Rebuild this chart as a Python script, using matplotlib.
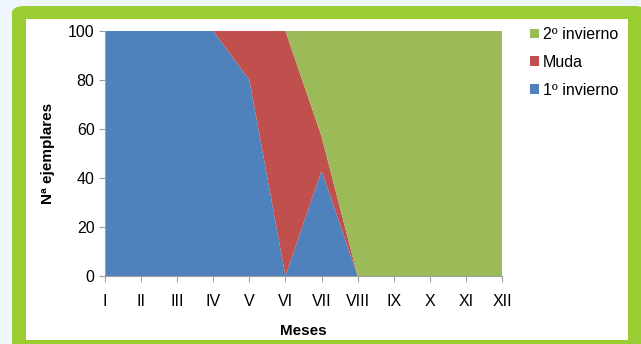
import matplotlib.pyplot as plt
from matplotlib.patches import FancyBboxPatch, Rectangle

plt.rcParams['font.family'] = ['Liberation Sans', 'DejaVu Sans']

meses = ['I', 'II', 'III', 'IV', 'V', 'VI', 'VII', 'VIII', 'IX', 'X', 'XI', 'XII']
invierno1 = [100, 100, 100, 100, 80, 0, 43, 0, 0, 0, 0, 0]
muda = [0, 0, 0, 0, 20, 100, 14, 0, 0, 0, 0, 0]
invierno2 = [0, 0, 0, 0, 0, 0, 43, 100, 100, 100, 100, 100]

colores = ['#4f81bd', '#c0504d', '#9bbb59']

fig = plt.figure(figsize=(6.41, 3.44), dpi=100)
fig.patch.set_facecolor('#eef5fc')

# green frame with white panel
fig.patches.append(FancyBboxPatch((12/641, -0.05), 0.99, 1.0 - 6/344 + 0.05,
                                  boxstyle='round,pad=0,rounding_size=0.02',
                                  transform=fig.transFigure, facecolor='#9acd32',
                                  edgecolor='none', zorder=-2))
fig.patches.append(Rectangle((26/641, 4/344), (628-26)/641, (340-19)/344,
                             transform=fig.transFigure, facecolor='white',
                             edgecolor='none', zorder=-1))

ax = fig.add_axes([105/641, 1-276/344, (502-105)/641, (276-31)/344])
ax.set_facecolor('none')
x = list(range(len(meses)))
ax.stackplot(x, invierno1, muda, invierno2, colors=colores,
             labels=['1º invierno', 'Muda', '2º invierno'], linewidth=0)

ax.set_xlim(0, 11)
ax.set_ylim(0, 100)
ax.set_xticks(x)
ax.set_xticklabels(meses)
ax.set_yticks([0, 20, 40, 60, 80, 100])
for s in ['top', 'right']:
    ax.spines[s].set_visible(False)
for s in ['left', 'bottom']:
    ax.spines[s].set_color('#a0a0a0')
ax.tick_params(colors='#a0a0a0', labelcolor='black', labelsize=11.5, length=4,
               direction='out')
ax.tick_params(axis='x', pad=9)
ax.set_xlabel('Meses', fontsize=11, fontweight='bold', labelpad=11)
ax.set_ylabel('Nª ejemplares', fontsize=11, fontweight='bold', labelpad=9)

h, l = ax.get_legend_handles_labels()
leg = ax.legend(h[::-1], l[::-1], loc='upper left', bbox_to_anchor=(1.035, 1.075),
                frameon=False, fontsize=11.5, handlelength=0.55, handleheight=0.55,
                handletextpad=0.25, labelspacing=0.8)

fig.savefig('out.png', dpi=100, facecolor=fig.get_facecolor())
